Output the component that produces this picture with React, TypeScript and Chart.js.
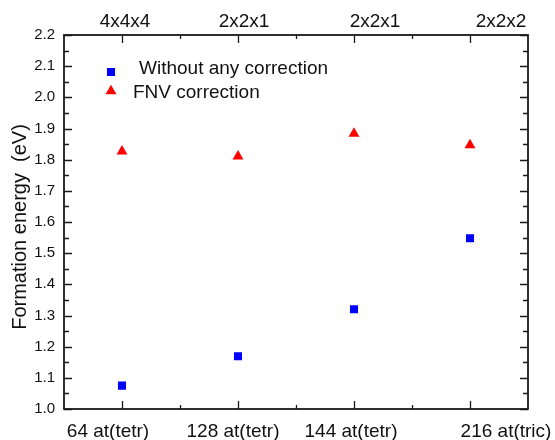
import React, { useEffect, useRef } from "react";
import { Chart, registerables } from "chart.js";

Chart.register(...registerables);

const categories = ["64 at(tetr)", "128 at(tetr)", "144 at(tetr)", "216 at(tric)"];
const topLabels = ["4x4x4", "2x2x1", "2x2x1", "2x2x2"];
const withoutCorrection = [1.075, 1.169, 1.32, 1.548];
const fnvCorrection = [1.827, 1.811, 1.884, 1.847];
const seriesNames = ["Without any correction", "FNV correction"];
const yMin = 1.0;
const yMax = 2.2;
const yTitle = "Formation energy  (eV)";

const FONT = "'Liberation Sans', Arial, sans-serif";
const INK = "#111";
// horizontal nudges of the category labels relative to their ticks (as in the reference)
const bottomLabelShift = [-14, -5, -3, 36];
const topLabelShift = [3, 6, 21, 31];

const framePlugin = {
  id: "framePlugin",
  afterDraw(chart: any) {
    const ctx = chart.ctx;
    const { left, right, top, bottom } = chart.chartArea;
    const xs = chart.scales.x;
    const xt = chart.scales.x2;
    const ys = chart.scales.y;
    ctx.save();
    ctx.strokeStyle = "#1a1a1a";
    ctx.lineWidth = 1.8;
    ctx.strokeRect(left, top, right - left, bottom - top);
    ctx.lineWidth = 1.3;
    ctx.beginPath();
    for (let i = 0; i <= Math.round((yMax - yMin) / 0.05); i++) {
      const v = yMin + i * 0.05;
      const py = Math.round(ys.getPixelForValue(v)) + 0.5;
      const len = i % 2 === 0 ? 8 : 5;
      ctx.moveTo(left, py);
      ctx.lineTo(left + len, py);
      ctx.moveTo(right, py);
      ctx.lineTo(right - len, py);
    }
    for (let i = 0; i < categories.length; i++) {
      const px = Math.round(xs.getPixelForValue(i)) + 0.5;
      ctx.moveTo(px, bottom);
      ctx.lineTo(px, bottom - 8);
      ctx.moveTo(px, top);
      ctx.lineTo(px, top + 8);
      if (i < categories.length - 1) {
        const mx = Math.round(xs.getPixelForValue(i + 0.5)) + 0.5;
        ctx.moveTo(mx, bottom);
        ctx.lineTo(mx, bottom - 4);
        ctx.moveTo(mx, top);
        ctx.lineTo(mx, top + 4);
      }
    }
    ctx.stroke();

    // category labels (bottom and top)
    ctx.fillStyle = INK;
    ctx.font = `19px ${FONT}`;
    ctx.textAlign = "center";
    ctx.textBaseline = "alphabetic";
    categories.forEach((lab, i) => {
      ctx.fillText(lab, xs.getPixelForValue(i) + bottomLabelShift[i], bottom + 28);
    });
    topLabels.forEach((lab, i) => {
      ctx.fillText(lab, xt.getPixelForValue(i) + topLabelShift[i], top - 8);
    });

    ctx.font = `20px ${FONT}`;
    ctx.textAlign = "center";
    ctx.textBaseline = "middle";
    ctx.translate(20, 227);
    ctx.rotate(-Math.PI / 2);
    ctx.fillText(yTitle, 0, 0);
    ctx.restore();

    ctx.save();
    const ds = chart.data.datasets;
    const legendY = [72, 91];
    const textX = [139, 133];
    const textY = [68, 92];
    ctx.font = `19px ${FONT}`;
    ctx.textAlign = "left";
    ctx.textBaseline = "middle";
    ds.forEach((d: any, i: number) => {
      ctx.fillStyle = d.backgroundColor;
      const cx = 111;
      const cy = legendY[i];
      if (d.pointStyle === "rect") {
        const s = d.pointRadius / Math.SQRT2;
        ctx.fillRect(cx - s, cy - s, 2 * s, 2 * s);
      } else {
        const r = d.pointRadius;
        ctx.beginPath();
        ctx.moveTo(cx, cy - r);
        ctx.lineTo(cx + r * Math.sin(Math.PI / 3), cy + r / 2);
        ctx.lineTo(cx - r * Math.sin(Math.PI / 3), cy + r / 2);
        ctx.closePath();
        ctx.fill();
      }
      ctx.fillStyle = INK;
      ctx.fillText(d.label, textX[i], textY[i] + 1);
    });
    ctx.restore();
  },
};

export default function App() {
  const ref = useRef<HTMLCanvasElement | null>(null);
  useEffect(() => {
    document.body.style.margin = "0";
    const canvas = ref.current!;
    const chart = new Chart(canvas, {
      type: "scatter",
      data: {
        labels: categories,
        datasets: [
          {
            label: seriesNames[0],
            data: withoutCorrection.map((v, i) => ({ x: i, y: v })),
            backgroundColor: "#0000ff",
            borderColor: "#0000ff",
            borderWidth: 0,
            pointStyle: "rect",
            pointRadius: 5.7,
            xAxisID: "x",
            yAxisID: "y",
          },
          {
            label: seriesNames[1],
            data: fnvCorrection.map((v, i) => ({ x: i, y: v })),
            backgroundColor: "#ff0000",
            borderColor: "#ff0000",
            borderWidth: 0,
            pointStyle: "triangle",
            pointRadius: 6.3,
            xAxisID: "x",
            yAxisID: "y",
          },
        ],
      },
      options: {
        responsive: false,
        animation: false,
        layout: { padding: { left: 0, right: 27, top: 0, bottom: 0 } },
        plugins: { legend: { display: false }, tooltip: { enabled: false } },
        scales: {
          x: {
            type: "category",
            labels: categories,
            position: "bottom",
            offset: true,
            grid: { display: false, drawTicks: false },
            border: { display: false },
            ticks: { display: false },
            afterFit: (s: any) => {
              s.height = 31;
            },
          },
          x2: {
            type: "category",
            labels: topLabels,
            position: "top",
            offset: true,
            grid: { display: false, drawTicks: false },
            border: { display: false },
            ticks: { display: false },
            afterFit: (s: any) => {
              s.height = 35;
            },
          },
          y: {
            type: "linear",
            min: yMin,
            max: yMax,
            grid: { display: false, drawTicks: false },
            border: { display: false },
            ticks: {
              stepSize: 0.1,
              padding: 9,
              color: INK,
              font: { family: FONT, size: 15 },
              callback: (v: any) => Number(v).toFixed(1),
            },
            afterFit: (s: any) => {
              s.width = 64;
            },
          },
        },
      },
      plugins: [framePlugin],
    } as any);
    return () => chart.destroy();
  }, []);
  return <canvas ref={ref} width={555} height={440} style={{ display: "block" }} />;
}
